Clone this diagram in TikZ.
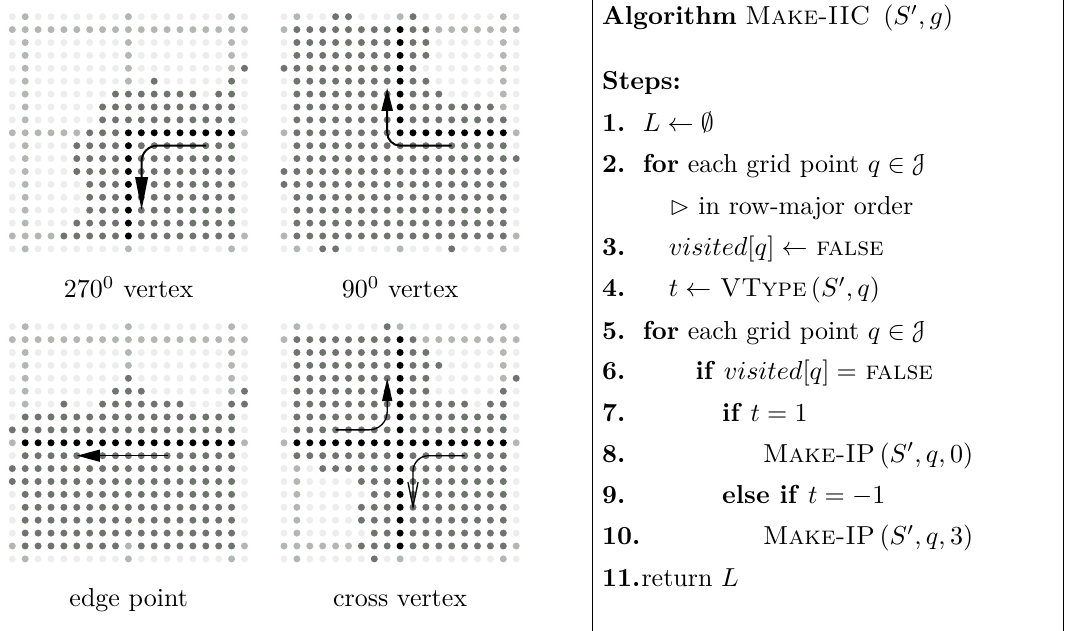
\documentclass[tikz,border=0pt]{standalone}
\usepackage{amssymb}
\usepackage{eucal}
\usetikzlibrary{arrows.meta}
\definecolor{lev0}{HTML}{EDEDED}
\definecolor{lev1}{HTML}{B3B7B3}
\definecolor{lev2}{HTML}{6F746F}
\definecolor{lev3}{HTML}{000000}
\newcommand\mydotgrid[3]{%
  \foreach \row [count=\r from 0] in {#3} {
    \foreach \v [count=\c from 0] in \row {
      \fill[fill=lev\v] (#1+\c*12.9, #2+\r*12.9) circle[radius=3.5];
    }
  }%
}
\begin{document}
\begin{tikzpicture}[x=0.3846pt,y=-0.3846pt,
  alg/.style={anchor=base west, inner sep=0pt},
  lab/.style={anchor=base, inner sep=0pt},
  thickarrow/.style={line width=0.75pt},
  thinarrow/.style={line width=0.5pt}]
\useasboundingbox (0,0) rectangle (1066,631);

% ---------- grid 1 : 270 vertex
\mydotgrid{12.3}{16.7}{%
{0,1,0,0,0,0,0,0,0,1,0,0,0,0,0,0,0,1,0},
{1,1,1,1,1,1,1,1,1,1,1,1,1,1,1,1,1,1,1},
{0,1,0,0,0,0,0,0,0,1,0,0,0,0,0,0,0,1,0},
{0,1,0,0,0,0,0,0,0,1,0,0,0,0,0,0,0,1,0},
{0,1,0,0,0,0,0,0,0,1,0,0,0,0,0,0,0,1,2},
{0,1,0,0,0,0,0,0,0,1,0,2,0,0,0,0,0,2,0},
{0,1,0,0,0,0,0,0,2,2,2,2,2,2,2,0,2,2,0},
{0,1,0,0,0,0,0,2,2,2,2,2,2,2,2,2,2,2,0},
{0,1,0,0,0,0,0,2,2,2,2,2,2,2,2,2,2,2,0},
{1,1,1,1,1,1,2,2,2,3,3,3,3,3,3,3,3,3,1},
{0,1,0,0,0,2,2,2,2,3,2,2,2,2,2,2,2,2,0},
{0,1,0,0,0,2,2,2,2,3,2,2,2,2,2,2,2,2,0},
{0,1,0,0,0,2,2,2,2,3,2,2,2,2,2,2,2,2,0},
{0,1,0,0,0,0,2,2,2,3,2,2,2,2,2,2,2,2,0},
{0,1,0,0,0,0,2,2,2,3,2,2,2,2,2,2,2,2,0},
{0,1,0,0,0,0,2,2,2,3,2,2,2,2,2,2,2,2,0},
{0,1,0,0,0,2,2,2,2,3,2,2,2,2,2,2,2,2,0},
{1,1,1,1,2,2,2,2,2,3,2,2,2,2,2,2,2,2,1},
{0,1,0,0,0,0,0,0,0,1,0,0,0,0,0,0,0,1,0}}

% ---------- grid 2 : 90 vertex
\mydotgrid{284}{16.7}{%
{0,1,0,0,2,2,0,0,0,1,2,0,0,0,0,0,0,1,0},
{1,2,2,2,2,2,2,2,2,3,2,2,1,1,1,1,1,1,1},
{0,2,2,2,2,2,2,2,2,3,2,2,0,0,0,0,0,1,0},
{0,2,2,2,2,2,2,2,2,3,2,2,0,0,0,0,0,1,0},
{2,2,2,2,2,2,2,2,2,3,2,0,0,0,0,0,0,1,0},
{0,2,2,2,2,2,2,2,2,3,2,2,0,0,0,0,0,1,0},
{0,2,2,2,2,2,2,2,2,3,2,2,2,0,0,0,0,1,0},
{0,2,2,2,2,2,2,2,2,3,2,2,2,2,2,2,2,1,0},
{0,2,2,2,2,2,2,2,2,3,2,2,2,2,2,2,2,2,0},
{1,2,2,2,2,2,2,2,2,3,3,3,3,3,3,3,3,3,1},
{0,2,2,2,2,2,2,2,2,2,2,2,2,2,2,2,2,2,0},
{0,2,2,2,2,2,2,2,2,2,2,2,2,2,2,2,2,2,2},
{2,2,2,2,2,2,2,2,2,2,2,2,2,2,2,2,2,2,0},
{2,2,2,2,2,2,2,2,2,2,2,2,2,2,2,2,2,2,0},
{0,2,2,2,2,2,2,2,2,2,2,2,2,2,2,2,2,2,0},
{0,2,2,2,2,2,2,2,2,2,2,2,2,2,2,2,2,2,0},
{0,2,2,2,2,2,2,2,2,2,2,2,2,2,2,2,2,2,0},
{1,2,2,2,2,2,2,2,2,2,2,2,2,2,2,2,2,2,1},
{0,1,0,2,2,0,0,0,0,1,0,0,0,2,0,0,0,1,0}}

% ---------- grid 3 : edge point
\mydotgrid{12.3}{326.7}{%
{0,1,0,0,0,0,0,0,0,1,0,0,0,0,0,0,0,1,0},
{1,1,1,1,1,1,1,1,1,1,1,1,1,1,1,1,1,1,1},
{0,1,0,0,0,0,0,0,0,1,0,0,0,0,0,0,0,1,0},
{0,1,0,0,0,0,0,0,0,1,0,0,0,0,0,0,0,1,0},
{0,1,0,0,0,0,0,0,0,2,0,0,0,0,0,0,0,1,0},
{0,1,0,0,0,0,0,0,2,2,2,0,0,0,0,0,0,1,2},
{0,1,0,0,2,0,0,2,2,2,2,2,2,2,0,0,0,2,2},
{0,2,2,2,2,2,2,2,2,2,2,2,2,2,2,2,2,2,0},
{2,2,2,2,2,2,2,2,2,2,2,2,2,2,2,2,2,2,0},
{1,3,3,3,3,3,3,3,3,3,3,3,3,3,3,3,3,3,1},
{0,2,2,2,2,2,2,2,2,2,2,2,2,2,2,2,2,2,0},
{2,2,2,2,2,2,2,2,2,2,2,2,2,2,2,2,2,2,0},
{2,2,2,2,2,2,2,2,2,2,2,2,2,2,2,2,2,2,0},
{0,2,2,2,2,2,2,2,2,2,2,2,2,2,2,2,2,2,0},
{0,2,2,2,2,2,2,2,2,2,2,2,2,2,2,2,2,2,0},
{0,2,2,2,2,2,2,2,2,2,2,2,2,2,2,2,2,2,0},
{0,2,2,2,2,2,2,2,2,2,2,2,2,2,2,2,2,2,0},
{1,2,2,2,2,2,2,2,2,1,2,2,2,2,2,2,2,2,1},
{0,1,0,0,0,0,0,0,0,1,0,0,0,0,0,0,0,1,0}}

% ---------- grid 4 : cross vertex
\mydotgrid{284}{326.7}{%
{0,1,0,0,0,0,0,0,2,1,0,0,0,0,0,0,0,1,0},
{1,2,2,2,2,2,2,2,2,3,2,1,1,1,1,1,1,1,1},
{0,2,2,2,2,2,2,2,2,3,2,2,0,0,0,0,0,1,0},
{0,2,2,2,2,2,2,2,2,3,2,2,2,0,0,0,0,1,0},
{0,2,2,2,2,2,2,2,2,3,2,2,0,0,0,0,0,1,2},
{0,2,2,2,2,2,2,2,2,3,2,2,0,0,0,0,0,2,0},
{0,2,2,2,2,2,2,2,2,3,2,2,2,2,2,0,2,2,0},
{0,2,2,2,2,2,2,2,2,3,2,2,2,2,2,2,2,2,0},
{0,2,2,2,2,2,2,2,2,3,2,2,2,2,2,2,2,2,0},
{1,3,3,3,3,3,3,3,3,3,3,3,3,3,3,3,3,3,1},
{0,2,2,2,2,2,2,2,2,3,2,2,2,2,2,2,2,2,0},
{0,1,0,2,2,2,2,2,2,3,2,2,2,2,2,2,2,2,0},
{0,1,0,0,0,0,2,2,2,3,2,2,2,2,2,2,2,2,0},
{0,1,0,0,0,0,0,2,2,3,2,2,2,2,2,2,2,2,0},
{0,1,0,0,0,0,2,2,2,3,2,2,2,2,2,2,2,2,0},
{0,1,0,0,0,0,2,2,2,3,2,2,2,2,2,2,2,2,0},
{0,1,0,0,0,0,0,2,2,3,2,2,2,2,2,2,2,2,0},
{1,1,1,1,1,1,2,2,2,3,2,2,2,2,2,2,2,2,1},
{0,1,0,0,0,0,0,2,0,1,0,0,0,0,0,0,0,1,0}}

% ---------- arrows
\coordinate (a1s) at (206.2,145.7);
\coordinate (a1c) at (141.6,145.7);
\coordinate (a1e) at (141.6,210.2);
\draw[thickarrow,rounded corners=6pt,-{Triangle[length=12.7pt,width=4.8pt]}]
  (a1s) -- (a1c) -- (a1e);

\coordinate (a2s) at (451.7,145.7);
\coordinate (a2c) at (387.2,145.7);
\coordinate (a2e) at (387.2,88);
\draw[thickarrow,rounded corners=5pt,-{Triangle[length=8.8pt,width=4.3pt]}]
  (a2s) -- (a2c) -- (a2e);

\coordinate (a3s) at (167.5,455.7);
\coordinate (a3e) at (77,455.7);
\draw[thinarrow,-{Triangle[length=8.8pt,width=4.6pt]}] (a3s) -- (a3e);

\coordinate (a4s) at (335.6,429.9);
\coordinate (a4c) at (387.2,429.9);
\coordinate (a4e) at (387.2,378.3);
\draw[thinarrow,rounded corners=7pt,-{Triangle[length=8.8pt,width=3.9pt]}]
  (a4s) -- (a4c) -- (a4e);

\coordinate (a5s) at (464.6,455.7);
\coordinate (a5c) at (413,455.7);
\coordinate (a5e) at (413,510);
\draw[thinarrow,rounded corners=6pt,-{Straight Barb[length=9.5pt,width=3.9pt]}]
  (a5s) -- (a5c) -- (a5e);

% ---------- labels
\node[lab] (lab1) at (128.7,298) {$270^0$ vertex};
\node[lab] (lab2) at (400.1,298) {$90^0$ vertex};
\node[lab] (lab3) at (128.7,607) {edge point};
\node[lab] (lab4) at (400.1,607) {cross vertex};

% ---------- algorithm box
\coordinate (bl1) at (592.7,0);
\coordinate (bl2) at (592.7,631);
\coordinate (br1) at (1063.3,0);
\coordinate (br2) at (1063.3,631);
\draw[line width=0.45pt] (bl1) -- (bl2);
\draw[line width=0.45pt] (br1) -- (br2);

\node[alg] (title) at (601.7,25) {\textbf{Algorithm} \textsc{Make-IIC}\, $(S',g)$};
\node[alg] (steps) at (601.7,90) {\textbf{Steps:}};
\node[alg] (n1) at (601.7,131.7) {\textbf{1.}};
\node[alg] (n2) at (601.7,172.7) {\textbf{2.}};
\node[alg] (n3) at (601.7,256) {\textbf{3.}};
\node[alg] (n4) at (601.7,296.7) {\textbf{4.}};
\node[alg] (n5) at (601.7,339.3) {\textbf{5.}};
\node[alg] (n6) at (601.7,380) {\textbf{6.}};
\node[alg] (n7) at (601.7,421.7) {\textbf{7.}};
\node[alg] (n8) at (601.7,462.3) {\textbf{8.}};
\node[alg] (n9) at (601.7,504) {\textbf{9.}};
\node[alg] (n10) at (601.7,545) {\textbf{10.}};
\node[alg] (n11) at (601.7,586.7) {\textbf{11.}};

\node[alg] (l1) at (642.3,131.7) {$L \leftarrow \emptyset$};
\node[alg] (l2) at (642.3,172.7) {\textbf{for} each grid point $q \in \mathcal{J}$};
\node[alg] (l2b) at (669,215) {$\rhd$ in row-major order};
\node[alg] (l3) at (668.3,256) {$visited[q] \leftarrow$ \textsc{false}};
\node[alg] (l4) at (668.3,296.7) {$t \leftarrow$ \textsc{VType}\,$(S',q)$};
\node[alg] (l5) at (642.3,339.3) {\textbf{for} each grid point $q \in \mathcal{J}$};
\node[alg] (l6) at (695,380) {\textbf{if} $visited[q] =$ \textsc{false}};
\node[alg] (l7) at (721.7,421.7) {\textbf{if} $t = 1$};
\node[alg] (l8) at (762.3,462.3) {\textsc{Make-IP}\,$(S',q,0)$};
\node[alg] (l9) at (721.7,504) {\textbf{else if} $t = -1$};
\node[alg] (l10) at (762.3,545) {\textsc{Make-IP}\,$(S',q,3)$};
\node[alg] (l11) at (641,586.7) {return $L$};
\end{tikzpicture}
\end{document}
